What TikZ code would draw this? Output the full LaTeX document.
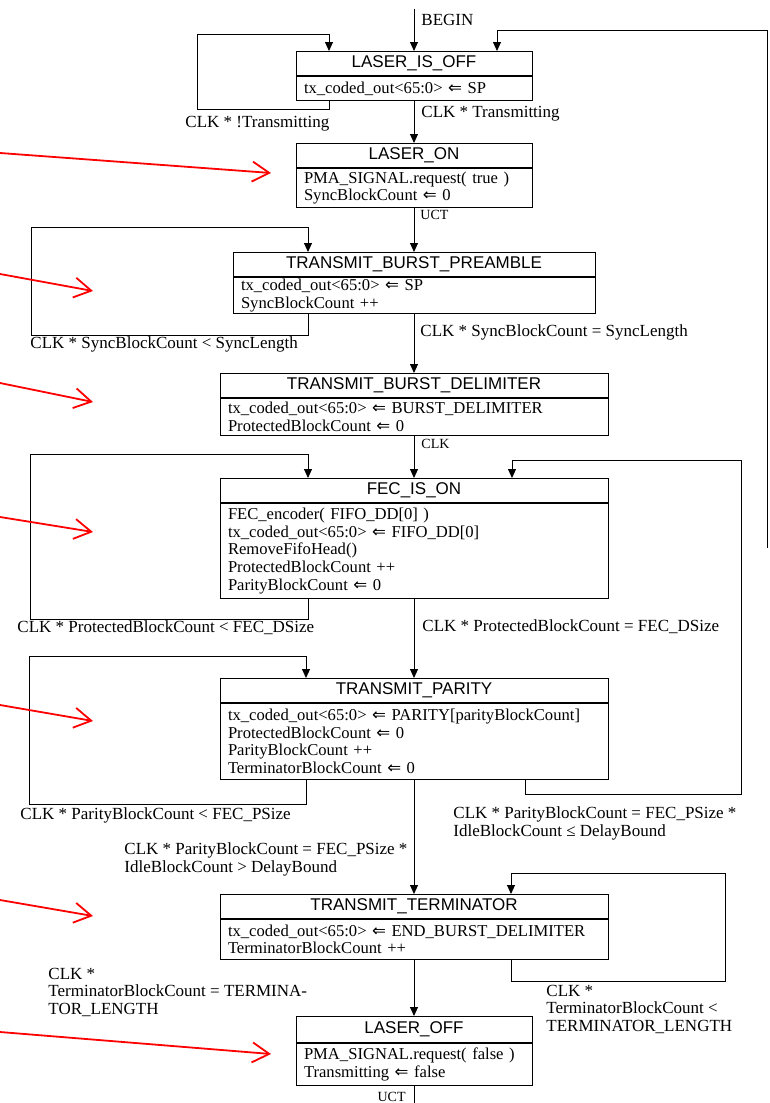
\documentclass[tikz,border=0pt]{standalone}
\usepackage{fontspec}
\setmainfont{Liberation Serif}
\setsansfont{Liberation Sans}
\newfontfamily\arrowfont{DejaVu Sans}
\usetikzlibrary{positioning,arrows.meta}

\newcommand{\asgn}{{\arrowfont ⇐}}

\tikzset{
  statehead/.style={draw, anchor=north, minimum height=24, inner sep=0pt, font=\sffamily\fontsize{17}{17}\selectfont},
  statebody/.style={draw, align=left, inner xsep=8pt, inner ysep=0pt, font=\fontsize{16.6}{17.6}\selectfont},
  trans/.style={-{Triangle[length=9pt,width=8pt]}},
  lbl/.style={inner sep=0pt, align=left, font=\fontsize{17}{17.5}\selectfont},
  smalllbl/.style={inner sep=0pt, font=\fontsize{14}{14}\selectfont},
  remark/.style={red, line width=1.8pt, -{Straight Barb[length=17pt,width=20pt]}}
}

\begin{document}
\begin{tikzpicture}[x=1pt,y=-1pt,line width=0.9pt]
    \useasboundingbox (0,0) rectangle (769,1103);

    % states
    \node[statehead, minimum width=236] (isoff) at (414,51) {LASER\_IS\_OFF};
    \node[statebody, text width=220pt, minimum height=24, below=0pt of isoff] (isoffb) {tx\_coded\_out<65:0> \asgn{} SP};

    \node[statehead, minimum width=236] (laseron) at (414,143) {LASER\_ON};
    \node[statebody, text width=220pt, minimum height=39, below=0pt of laseron] (laseronb) {PMA\_SIGNAL.request( true )\\SyncBlockCount \asgn{} 0};

    \node[statehead, minimum width=362] (preamble) at (414,252) {TRANSMIT\_BURST\_PREAMBLE};
    \node[statebody, text width=346pt, minimum height=36, below=0pt of preamble] (preambleb) {tx\_coded\_out<65:0> \asgn{} SP\\SyncBlockCount ++};

    \node[statehead, minimum width=388] (delim) at (414,373) {TRANSMIT\_BURST\_DELIMITER};
    \node[statebody, text width=372pt, minimum height=37, below=0pt of delim] (delimb) {tx\_coded\_out<65:0> \asgn{} BURST\_DELIMITER\\ProtectedBlockCount \asgn{} 0};

    \node[statehead, minimum width=388] (fecon) at (414,478) {FEC\_IS\_ON};
    \node[statebody, text width=372pt, minimum height=95, below=0pt of fecon] (feconb) {FEC\_encoder( FIFO\_DD[0] )\\tx\_coded\_out<65:0> \asgn{} FIFO\_DD[0]\\RemoveFifoHead()\\ProtectedBlockCount ++\\ParityBlockCount \asgn{} 0};

    \node[statehead, minimum width=388] (parity) at (414,678) {TRANSMIT\_PARITY};
    \node[statebody, text width=372pt, minimum height=76, below=0pt of parity] (parityb) {tx\_coded\_out<65:0> \asgn{} PARITY[parityBlockCount]\\ProtectedBlockCount \asgn{} 0\\ParityBlockCount ++\\TerminatorBlockCount \asgn{} 0};

    \node[statehead, minimum width=388] (term) at (414,894) {TRANSMIT\_TERMINATOR};
    \node[statebody, text width=372pt, minimum height=40, below=0pt of term] (termb) {tx\_coded\_out<65:0> \asgn{} END\_BURST\_DELIMITER\\TerminatorBlockCount ++};

    \node[statehead, minimum width=236, minimum height=26] (laseroff) at (414,1016) {LASER\_OFF};
    \node[statebody, text width=220pt, minimum height=42, below=0pt of laseroff] (laseroffb) {PMA\_SIGNAL.request( false )\\Transmitting \asgn{} false};

    \coordinate (begin) at (414,9);
    \coordinate (back) at (767.5,548);
    \coordinate (done) at (414,1103);

    % transitions
    \draw[trans] (begin) -- (isoff);
    \draw[trans] ([xshift=-85pt]isoffb.south) -- ++(0,9) -| (197,34) -| ([xshift=-85pt]isoff.north);
    \draw[trans] (back) -- (767.5,30) -| ([xshift=83pt]isoff.north);
    \draw[trans] (isoffb) -- (laseron);
    \draw[trans] (laseronb) -- (preamble);
    \draw[trans] ([xshift=-106pt]preambleb.south) -- ++(0,22) -| (31,227) -| ([xshift=-106pt]preamble.north);
    \draw[trans] (preambleb) -- (delim);
    \draw[trans] (delimb) -- (fecon);
    \draw[trans] ([xshift=-106pt]feconb.south) -- ++(0,21) -| (30,454) -| ([xshift=-106pt]fecon.north);
    \draw[trans] (feconb) -- (parity);
    \draw[trans] ([xshift=-108pt]parityb.south) -- ++(0,25) -| (29,656) -| ([xshift=-108pt]parity.north);
    \draw[trans] ([xshift=111pt]parityb.south) -- ++(0,15) -| (741,460) -| ([xshift=98pt]fecon.north);
    \draw[trans] (parityb) -- (term);
    \draw[trans] ([xshift=97pt]termb.south) -- ++(0,22) -| (725,873) -| ([xshift=97pt]term.north);
    \draw[trans] (termb) -- (laseroff);
    \draw (laseroffb) -- (done);

    % conditions
    \node[lbl, anchor=west] (lbegin) at (421,20) {BEGIN};
    \node[lbl, anchor=west] (lidle) at (185,124) {CLK * !Transmitting};
    \node[lbl, anchor=west] (lstart) at (421,114) {CLK * Transmitting};
    \node[smalllbl, anchor=west] (luct) at (420,215) {UCT};
    \node[lbl, anchor=west] (lsync) at (30,344) {CLK * SyncBlockCount < SyncLength};
    \node[lbl, anchor=west] (lsyncdone) at (420,332) {CLK * SyncBlockCount = SyncLength};
    \node[smalllbl, anchor=west] (lclk) at (421,444) {CLK};
    \node[lbl, anchor=west] (lprot) at (17,628) {CLK * ProtectedBlockCount < FEC\_DSize};
    \node[lbl, anchor=west] (lprotdone) at (422,627) {CLK * ProtectedBlockCount = FEC\_DSize};
    \node[lbl, anchor=west] (lpar) at (20,815) {CLK * ParityBlockCount < FEC\_PSize};
    \node[lbl, anchor=north west] (lparback) at (453,806.5) {CLK * ParityBlockCount = FEC\_PSize *\\IdleBlockCount ≤ DelayBound};
    \node[lbl, anchor=north west] (lpardone) at (124,842.5) {CLK * ParityBlockCount = FEC\_PSize *\\IdleBlockCount > DelayBound};
    \node[lbl, anchor=north west] (ltermdone) at (48,967.5) {CLK *\\TerminatorBlockCount = TERMINA-\\TOR\_LENGTH};
    \node[lbl, anchor=north west] (lterm) at (546,984.5) {CLK *\\TerminatorBlockCount <\\TERMINATOR\_LENGTH};
    \node[smalllbl, anchor=east] (luctend) at (406,1097) {UCT};

    % red pointers
    \draw[remark] (0,153) -- (271,173);
    \draw[remark] (0,274) -- (93,291);
    \draw[remark] (0,383) -- (93,402);
    \draw[remark] (0,517) -- (93,532);
    \draw[remark] (0,705) -- (93,721);
    \draw[remark] (0,900) -- (93,916);
    \draw[remark] (0,1032) -- (271,1054);
  \end{tikzpicture}
\end{document}
